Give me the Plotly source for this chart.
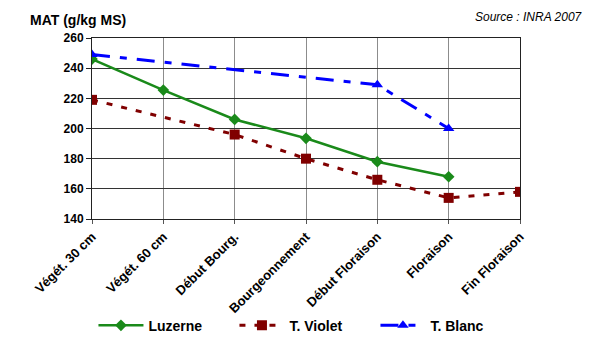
import plotly.graph_objects as go

stages = ["Végét. 30 cm", "Végét. 60 cm", "Début Bourg.", "Bourgeonnement",
          "Début Floraison", "Floraison", "Fin Floraison"]
luzerne = [246, 225.5, 206, 193.5, 178, 168, None]
t_violet = [219, None, 196, 180, 166, 154, 158]
t_blanc = [249, None, None, None, 229, 200, None]
y_ticks = [140, 160, 180, 200, 220, 240, 260]

FONT = "Liberation Sans, Arial, sans-serif"

fig = go.Figure()
fig.add_trace(go.Scatter(
    x=stages, y=luzerne, name="Luzerne", mode="lines+markers", connectgaps=True,
    line=dict(color="#1a8a1a", width=2.5),
    marker=dict(symbol="diamond", size=9, color="#1a8a1a")))
fig.add_trace(go.Scatter(
    x=stages, y=t_violet, name="T. Violet", mode="lines+markers", connectgaps=True,
    line=dict(color="#800000", width=3, dash="6px,9px"),
    marker=dict(symbol="square", size=10, color="#800000")))
fig.add_trace(go.Scatter(
    x=stages, y=t_blanc, name="T. Blanc", mode="lines+markers", connectgaps=True,
    line=dict(color="#0000ff", width=3, dash="18px,10px,7px,10px"),
    marker=dict(symbol="triangle-up", size=10, color="#0000ff")))

fig.update_layout(
    width=591, height=340,
    margin=dict(l=92, r=71, t=38, b=121, autoexpand=False),
    paper_bgcolor="white", plot_bgcolor="white",
    font=dict(family=FONT, color="black"),
    showlegend=True,
    legend=dict(orientation="h", xref="container", yref="container",
                x=0.516, xanchor="center", y=0.042, yanchor="middle",
                font=dict(size=14, weight="bold", family=FONT),
                itemwidth=45, entrywidth=81, entrywidthmode="pixels",
                bgcolor="rgba(0,0,0,0)"),
    xaxis=dict(type="category", categoryorder="array", categoryarray=stages,
               range=[0, 6], showgrid=True, gridcolor="#8c8c8c", gridwidth=1,
               showline=True, linecolor="#222", linewidth=1, mirror=True,
               ticks="outside", ticklen=4, tickcolor="#555", automargin=False,
               tickangle=-45, tickfont=dict(size=13, weight="bold", family=FONT)),
    yaxis=dict(range=[140, 260], tickvals=y_ticks, showgrid=True,
               gridcolor="#333", gridwidth=1, zeroline=False, automargin=False,
               showline=True, linecolor="#222", linewidth=1, mirror=True,
               ticks="outside", ticklen=5, tickcolor="#222",
               tickfont=dict(size=12, weight="bold", family=FONT)),
    annotations=[
        dict(text="MAT (g/kg MS)", xref="paper", yref="paper", x=-0.1495, y=1.099,
             xanchor="left", yanchor="middle", showarrow=False,
             font=dict(size=14, weight="bold", family=FONT)),
        dict(text="Source : INRA 2007", xref="paper", yref="paper", x=1.152, y=1.116,
             xanchor="right", yanchor="middle", showarrow=False,
             font=dict(size=12, style="italic", family=FONT)),
    ],
)

fig.write_html("out.html")
